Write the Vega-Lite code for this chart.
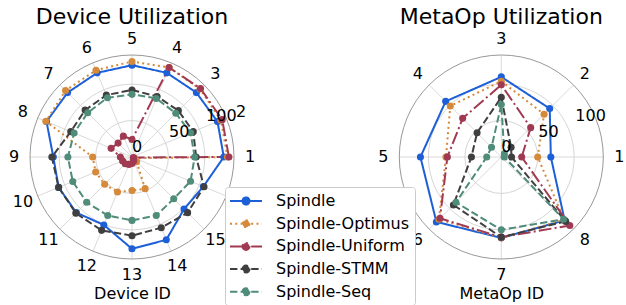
{
  "$schema": "https://vega.github.io/schema/vega-lite/v6.json",
  "padding": {"left": 8, "top": 5, "right": 0, "bottom": 0},
  "bounds": "flush",
  "spacing": 165.3,
  "config": {
    "font": "DejaVu Sans",
    "view": {"stroke": null},
    "title": {"fontSize": 22, "fontWeight": "normal", "color": "black", "offset": 2},
    "axisX": {"domain": false, "ticks": false, "labels": false, "grid": false, "titleFontSize": 16, "titleFontWeight": "normal", "titleColor": "black", "titlePadding": 26},
    "legend": {
      "labelFontSize": 16, "labelColor": "black",
      "symbolType": "M-2,0L2,0M0.44,0A0.44,0.44,0,1,1,-0.44,0A0.44,0.44,0,1,1,0.44,0",
      "symbolSize": 256, "symbolStrokeWidth": 2, "symbolOffset": 7, "rowPadding": 5.7, "padding": 5,
      "strokeColor": "#cccccc", "fillColor": "white", "cornerRadius": 3, "labelOffset": 21,
      "direction": "vertical"
    }
  },
  "datasets": {
    "device": [
      {"id":1,"series":"Spindle","value":126},{"id":2,"series":"Spindle","value":127},{"id":3,"series":"Spindle","value":125},{"id":4,"series":"Spindle","value":125},
      {"id":5,"series":"Spindle","value":126},{"id":6,"series":"Spindle","value":125},{"id":7,"series":"Spindle","value":125},{"id":8,"series":"Spindle","value":127},
      {"id":9,"series":"Spindle","value":108},{"id":10,"series":"Spindle","value":109},{"id":11,"series":"Spindle","value":108},{"id":12,"series":"Spindle","value":101},
      {"id":13,"series":"Spindle","value":126},{"id":14,"series":"Spindle","value":123},{"id":15,"series":"Spindle","value":101},{"id":16,"series":"Spindle","value":106},
      {"id":1,"series":"Spindle-Optimus","value":131},{"id":2,"series":"Spindle-Optimus","value":132},{"id":3,"series":"Spindle-Optimus","value":132},{"id":4,"series":"Spindle-Optimus","value":133},
      {"id":5,"series":"Spindle-Optimus","value":131},{"id":6,"series":"Spindle-Optimus","value":129},{"id":7,"series":"Spindle-Optimus","value":129},{"id":8,"series":"Spindle-Optimus","value":128},
      {"id":9,"series":"Spindle-Optimus","value":54},{"id":10,"series":"Spindle-Optimus","value":54},{"id":11,"series":"Spindle-Optimus","value":53},{"id":12,"series":"Spindle-Optimus","value":52},
      {"id":13,"series":"Spindle-Optimus","value":46},{"id":14,"series":"Spindle-Optimus","value":47},{"id":15,"series":"Spindle-Optimus","value":9},{"id":16,"series":"Spindle-Optimus","value":4},
      {"id":1,"series":"Spindle-Uniform","value":133},{"id":2,"series":"Spindle-Uniform","value":134},{"id":3,"series":"Spindle-Uniform","value":133},{"id":4,"series":"Spindle-Uniform","value":133},
      {"id":5,"series":"Spindle-Uniform","value":24},{"id":6,"series":"Spindle-Uniform","value":31},{"id":7,"series":"Spindle-Uniform","value":27},{"id":8,"series":"Spindle-Uniform","value":31},
      {"id":9,"series":"Spindle-Uniform","value":16},{"id":10,"series":"Spindle-Uniform","value":14},{"id":11,"series":"Spindle-Uniform","value":13},{"id":12,"series":"Spindle-Uniform","value":11},
      {"id":13,"series":"Spindle-Uniform","value":9},{"id":14,"series":"Spindle-Uniform","value":6},{"id":15,"series":"Spindle-Uniform","value":3},{"id":16,"series":"Spindle-Uniform","value":2},
      {"id":1,"series":"Spindle-STMM","value":88},{"id":2,"series":"Spindle-STMM","value":91},{"id":3,"series":"Spindle-STMM","value":90},{"id":4,"series":"Spindle-STMM","value":90},
      {"id":5,"series":"Spindle-STMM","value":92},{"id":6,"series":"Spindle-STMM","value":92},{"id":7,"series":"Spindle-STMM","value":91},{"id":8,"series":"Spindle-STMM","value":91},
      {"id":9,"series":"Spindle-STMM","value":110},{"id":10,"series":"Spindle-STMM","value":109},{"id":11,"series":"Spindle-STMM","value":109},{"id":12,"series":"Spindle-STMM","value":109},
      {"id":13,"series":"Spindle-STMM","value":108},{"id":14,"series":"Spindle-STMM","value":105},{"id":15,"series":"Spindle-STMM","value":108},{"id":16,"series":"Spindle-STMM","value":107},
      {"id":1,"series":"Spindle-Seq","value":86},{"id":2,"series":"Spindle-Seq","value":87},{"id":3,"series":"Spindle-Seq","value":85},{"id":4,"series":"Spindle-Seq","value":87},
      {"id":5,"series":"Spindle-Seq","value":86},{"id":6,"series":"Spindle-Seq","value":88},{"id":7,"series":"Spindle-Seq","value":86},{"id":8,"series":"Spindle-Seq","value":86},
      {"id":9,"series":"Spindle-Seq","value":88},{"id":10,"series":"Spindle-Seq","value":88},{"id":11,"series":"Spindle-Seq","value":88},{"id":12,"series":"Spindle-Seq","value":87},
      {"id":13,"series":"Spindle-Seq","value":87},{"id":14,"series":"Spindle-Seq","value":87},{"id":15,"series":"Spindle-Seq","value":81},{"id":16,"series":"Spindle-Seq","value":87}
    ],
    "metaop": [
      {"id":1,"series":"Spindle","value":68},{"id":2,"series":"Spindle","value":94},{"id":3,"series":"Spindle","value":110},{"id":4,"series":"Spindle","value":108},
      {"id":5,"series":"Spindle","value":111},{"id":6,"series":"Spindle","value":126},{"id":7,"series":"Spindle","value":111},{"id":8,"series":"Spindle","value":123},
      {"id":1,"series":"Spindle-Optimus","value":50},{"id":2,"series":"Spindle-Optimus","value":83},{"id":3,"series":"Spindle-Optimus","value":104},{"id":4,"series":"Spindle-Optimus","value":99},
      {"id":5,"series":"Spindle-Optimus","value":76},{"id":6,"series":"Spindle-Optimus","value":121},{"id":7,"series":"Spindle-Optimus","value":111},{"id":8,"series":"Spindle-Optimus","value":122},
      {"id":1,"series":"Spindle-Uniform","value":28},{"id":2,"series":"Spindle-Uniform","value":57},{"id":3,"series":"Spindle-Uniform","value":99},{"id":4,"series":"Spindle-Uniform","value":75},
      {"id":5,"series":"Spindle-Uniform","value":74},{"id":6,"series":"Spindle-Uniform","value":119},{"id":7,"series":"Spindle-Uniform","value":110},{"id":8,"series":"Spindle-Uniform","value":133},
      {"id":1,"series":"Spindle-STMM","value":14},{"id":2,"series":"Spindle-STMM","value":19},{"id":3,"series":"Spindle-STMM","value":82},{"id":4,"series":"Spindle-STMM","value":47},
      {"id":5,"series":"Spindle-STMM","value":41},{"id":6,"series":"Spindle-STMM","value":93},{"id":7,"series":"Spindle-STMM","value":110},{"id":8,"series":"Spindle-STMM","value":125},
      {"id":1,"series":"Spindle-Seq","value":4},{"id":2,"series":"Spindle-Seq","value":6},{"id":3,"series":"Spindle-Seq","value":72},{"id":4,"series":"Spindle-Seq","value":19},
      {"id":5,"series":"Spindle-Seq","value":20},{"id":6,"series":"Spindle-Seq","value":88},{"id":7,"series":"Spindle-Seq","value":100},{"id":8,"series":"Spindle-Seq","value":121}
    ],
    "rticks": [{"tick":0},{"tick":50},{"tick":100}],
    "rings": [{"ring":50,"kind":"grid"},{"ring":100,"kind":"grid"},{"ring":140,"kind":"outer"}]
  },
  "hconcat": [
    {
      "width": 204, "height": 204,
      "title": {"text": "Device Utilization"},
      "layer": [
        {"data": {"name": "device"},
         "transform": [{"filter": "datum.series === 'Spindle'"}, {"calculate": "(datum.id - 1) * 2 * PI / 16", "as": "ang"}, {"calculate": "0", "as": "c"}, {"calculate": "140 * cos(datum.ang)", "as": "ex"}, {"calculate": "140 * sin(datum.ang)", "as": "ey"}],
         "mark": {"type": "rule", "color": "#d0d0d0", "strokeWidth": 0.8},
         "encoding": {
           "x": {"field": "c", "type": "quantitative", "scale": {"domain": [-140, 140], "nice": false, "zero": false}, "axis": {"title": "Device ID"}},
           "y": {"field": "c", "type": "quantitative", "scale": {"domain": [-140, 140], "nice": false, "zero": false}, "axis": null},
           "x2": {"field": "ex"}, "y2": {"field": "ey"}}},
        {"data": {"name": "rings"},
         "transform": [{"calculate": "0", "as": "c"}],
         "mark": {"type": "point", "shape": "circle", "filled": false, "opacity": 1, "strokeWidth": 0.9},
         "encoding": {
           "x": {"field": "c", "type": "quantitative", "scale": {"domain": [-140, 140], "nice": false, "zero": false}, "axis": {"title": "Device ID"}},
           "y": {"field": "c", "type": "quantitative", "scale": {"domain": [-140, 140], "nice": false, "zero": false}, "axis": null},
           "size": {"field": "ring", "type": "quantitative", "scale": {"type": "pow", "exponent": 2, "domain": [0, 140], "range": [0, 41616]}, "legend": null},
           "stroke": {"field": "kind", "type": "nominal", "scale": {"domain": ["grid", "outer"], "range": ["#d0d0d0", "#8c8c8c"]}, "legend": null}}},
        {"data": {"name": "device"},
         "transform": [{"calculate": "(datum.id - 1) * 2 * PI / 16", "as": "ang"}, {"calculate": "datum.value * cos(datum.ang)", "as": "px"}, {"calculate": "datum.value * sin(datum.ang)", "as": "py"}],
         "mark": {"type": "line", "interpolate": "linear-closed", "strokeWidth": 2},
         "encoding": {
           "x": {"field": "px", "type": "quantitative", "scale": {"domain": [-140, 140], "nice": false, "zero": false}, "axis": {"title": "Device ID"}},
           "y": {"field": "py", "type": "quantitative", "scale": {"domain": [-140, 140], "nice": false, "zero": false}, "axis": null},
           "order": {"field": "id", "type": "quantitative"},
           "color": {"field": "series", "type": "nominal", "scale": {"domain": ["Spindle", "Spindle-Optimus", "Spindle-Uniform", "Spindle-STMM", "Spindle-Seq"], "range": ["#1c5fd6", "#d5893a", "#a03a52", "#3f3f3f", "#4f8c7a"]}, "legend": {"title": null, "orient": "none", "legendX": 195, "legendY": 132}},
           "strokeDash": {"field": "series", "type": "nominal", "scale": {"domain": ["Spindle", "Spindle-Optimus", "Spindle-Uniform", "Spindle-STMM", "Spindle-Seq"], "range": [[1, 0], [2, 3.3], [12.8, 3.2, 2, 3.2], [7.4, 3.2], [7.4, 3.2]]}, "legend": {"title": null, "orient": "none", "legendX": 195, "legendY": 132}}}},
        {"data": {"name": "device"},
         "transform": [{"calculate": "(datum.id - 1) * 2 * PI / 16", "as": "ang"}, {"calculate": "datum.value * cos(datum.ang)", "as": "px"}, {"calculate": "datum.value * sin(datum.ang)", "as": "py"}],
         "mark": {"type": "point", "shape": "circle", "filled": true, "size": 50, "opacity": 1},
         "encoding": {
           "x": {"field": "px", "type": "quantitative", "scale": {"domain": [-140, 140], "nice": false, "zero": false}, "axis": {"title": "Device ID"}},
           "y": {"field": "py", "type": "quantitative", "scale": {"domain": [-140, 140], "nice": false, "zero": false}, "axis": null},
           "color": {"field": "series", "type": "nominal", "legend": {"title": null, "orient": "none", "legendX": 195, "legendY": 132}}}},
        {"data": {"name": "device"},
         "transform": [{"filter": "datum.series === 'Spindle'"}, {"calculate": "(datum.id - 1) * 2 * PI / 16", "as": "ang"}, {"calculate": "162 * cos(datum.ang)", "as": "lx"}, {"calculate": "162 * sin(datum.ang)", "as": "ly"}],
         "mark": {"type": "text", "fontSize": 16, "align": "center", "baseline": "middle", "color": "black"},
         "encoding": {
           "x": {"field": "lx", "type": "quantitative", "scale": {"domain": [-140, 140], "nice": false, "zero": false}, "axis": {"title": "Device ID"}},
           "y": {"field": "ly", "type": "quantitative", "scale": {"domain": [-140, 140], "nice": false, "zero": false}, "axis": null},
           "text": {"field": "id", "type": "nominal"}}},
        {"data": {"name": "rticks"},
         "transform": [{"calculate": "datum.tick * 1.1 * cos(PI / 8)", "as": "lx"}, {"calculate": "datum.tick * 1.1 * sin(PI / 8)", "as": "ly"}],
         "mark": {"type": "text", "fontSize": 16, "align": "left", "baseline": "alphabetic", "dy": -5, "color": "black"},
         "encoding": {
           "x": {"field": "lx", "type": "quantitative", "scale": {"domain": [-140, 140], "nice": false, "zero": false}, "axis": {"title": "Device ID"}},
           "y": {"field": "ly", "type": "quantitative", "scale": {"domain": [-140, 140], "nice": false, "zero": false}, "axis": null},
           "text": {"field": "tick", "type": "nominal"}}}
      ]
    },
    {
      "width": 204, "height": 204,
      "title": {"text": "MetaOp Utilization"},
      "layer": [
        {"data": {"name": "metaop"},
         "transform": [{"filter": "datum.series === 'Spindle'"}, {"calculate": "(datum.id - 1) * 2 * PI / 8", "as": "ang"}, {"calculate": "0", "as": "c"}, {"calculate": "140 * cos(datum.ang)", "as": "ex"}, {"calculate": "140 * sin(datum.ang)", "as": "ey"}],
         "mark": {"type": "rule", "color": "#d0d0d0", "strokeWidth": 0.8},
         "encoding": {
           "x": {"field": "c", "type": "quantitative", "scale": {"domain": [-140, 140], "nice": false, "zero": false}, "axis": {"title": "MetaOp ID"}},
           "y": {"field": "c", "type": "quantitative", "scale": {"domain": [-140, 140], "nice": false, "zero": false}, "axis": null},
           "x2": {"field": "ex"}, "y2": {"field": "ey"}}},
        {"data": {"name": "rings"},
         "transform": [{"calculate": "0", "as": "c"}],
         "mark": {"type": "point", "shape": "circle", "filled": false, "opacity": 1, "strokeWidth": 0.9},
         "encoding": {
           "x": {"field": "c", "type": "quantitative", "scale": {"domain": [-140, 140], "nice": false, "zero": false}, "axis": {"title": "MetaOp ID"}},
           "y": {"field": "c", "type": "quantitative", "scale": {"domain": [-140, 140], "nice": false, "zero": false}, "axis": null},
           "size": {"field": "ring", "type": "quantitative", "scale": {"type": "pow", "exponent": 2, "domain": [0, 140], "range": [0, 41616]}, "legend": null},
           "stroke": {"field": "kind", "type": "nominal", "scale": {"domain": ["grid", "outer"], "range": ["#d0d0d0", "#8c8c8c"]}, "legend": null}}},
        {"data": {"name": "metaop"},
         "transform": [{"calculate": "(datum.id - 1) * 2 * PI / 8", "as": "ang"}, {"calculate": "datum.value * cos(datum.ang)", "as": "px"}, {"calculate": "datum.value * sin(datum.ang)", "as": "py"}],
         "mark": {"type": "line", "interpolate": "linear-closed", "strokeWidth": 2},
         "encoding": {
           "x": {"field": "px", "type": "quantitative", "scale": {"domain": [-140, 140], "nice": false, "zero": false}, "axis": {"title": "MetaOp ID"}},
           "y": {"field": "py", "type": "quantitative", "scale": {"domain": [-140, 140], "nice": false, "zero": false}, "axis": null},
           "order": {"field": "id", "type": "quantitative"},
           "color": {"field": "series", "type": "nominal", "legend": {"title": null, "orient": "none", "legendX": 195, "legendY": 132}},
           "strokeDash": {"field": "series", "type": "nominal", "legend": {"title": null, "orient": "none", "legendX": 195, "legendY": 132}}}},
        {"data": {"name": "metaop"},
         "transform": [{"calculate": "(datum.id - 1) * 2 * PI / 8", "as": "ang"}, {"calculate": "datum.value * cos(datum.ang)", "as": "px"}, {"calculate": "datum.value * sin(datum.ang)", "as": "py"}],
         "mark": {"type": "point", "shape": "circle", "filled": true, "size": 50, "opacity": 1},
         "encoding": {
           "x": {"field": "px", "type": "quantitative", "scale": {"domain": [-140, 140], "nice": false, "zero": false}, "axis": {"title": "MetaOp ID"}},
           "y": {"field": "py", "type": "quantitative", "scale": {"domain": [-140, 140], "nice": false, "zero": false}, "axis": null},
           "color": {"field": "series", "type": "nominal", "legend": {"title": null, "orient": "none", "legendX": 195, "legendY": 132}}}},
        {"data": {"name": "metaop"},
         "transform": [{"filter": "datum.series === 'Spindle'"}, {"calculate": "(datum.id - 1) * 2 * PI / 8", "as": "ang"}, {"calculate": "162 * cos(datum.ang)", "as": "lx"}, {"calculate": "162 * sin(datum.ang)", "as": "ly"}],
         "mark": {"type": "text", "fontSize": 16, "align": "center", "baseline": "middle", "color": "black"},
         "encoding": {
           "x": {"field": "lx", "type": "quantitative", "scale": {"domain": [-140, 140], "nice": false, "zero": false}, "axis": {"title": "MetaOp ID"}},
           "y": {"field": "ly", "type": "quantitative", "scale": {"domain": [-140, 140], "nice": false, "zero": false}, "axis": null},
           "text": {"field": "id", "type": "nominal"}}},
        {"data": {"name": "rticks"},
         "transform": [{"calculate": "datum.tick * 1.1 * cos(PI / 8)", "as": "lx"}, {"calculate": "datum.tick * 1.1 * sin(PI / 8)", "as": "ly"}],
         "mark": {"type": "text", "fontSize": 16, "align": "left", "baseline": "alphabetic", "dy": -5, "color": "black"},
         "encoding": {
           "x": {"field": "lx", "type": "quantitative", "scale": {"domain": [-140, 140], "nice": false, "zero": false}, "axis": {"title": "MetaOp ID"}},
           "y": {"field": "ly", "type": "quantitative", "scale": {"domain": [-140, 140], "nice": false, "zero": false}, "axis": null},
           "text": {"field": "tick", "type": "nominal"}}}
      ]
    }
  ]
}
